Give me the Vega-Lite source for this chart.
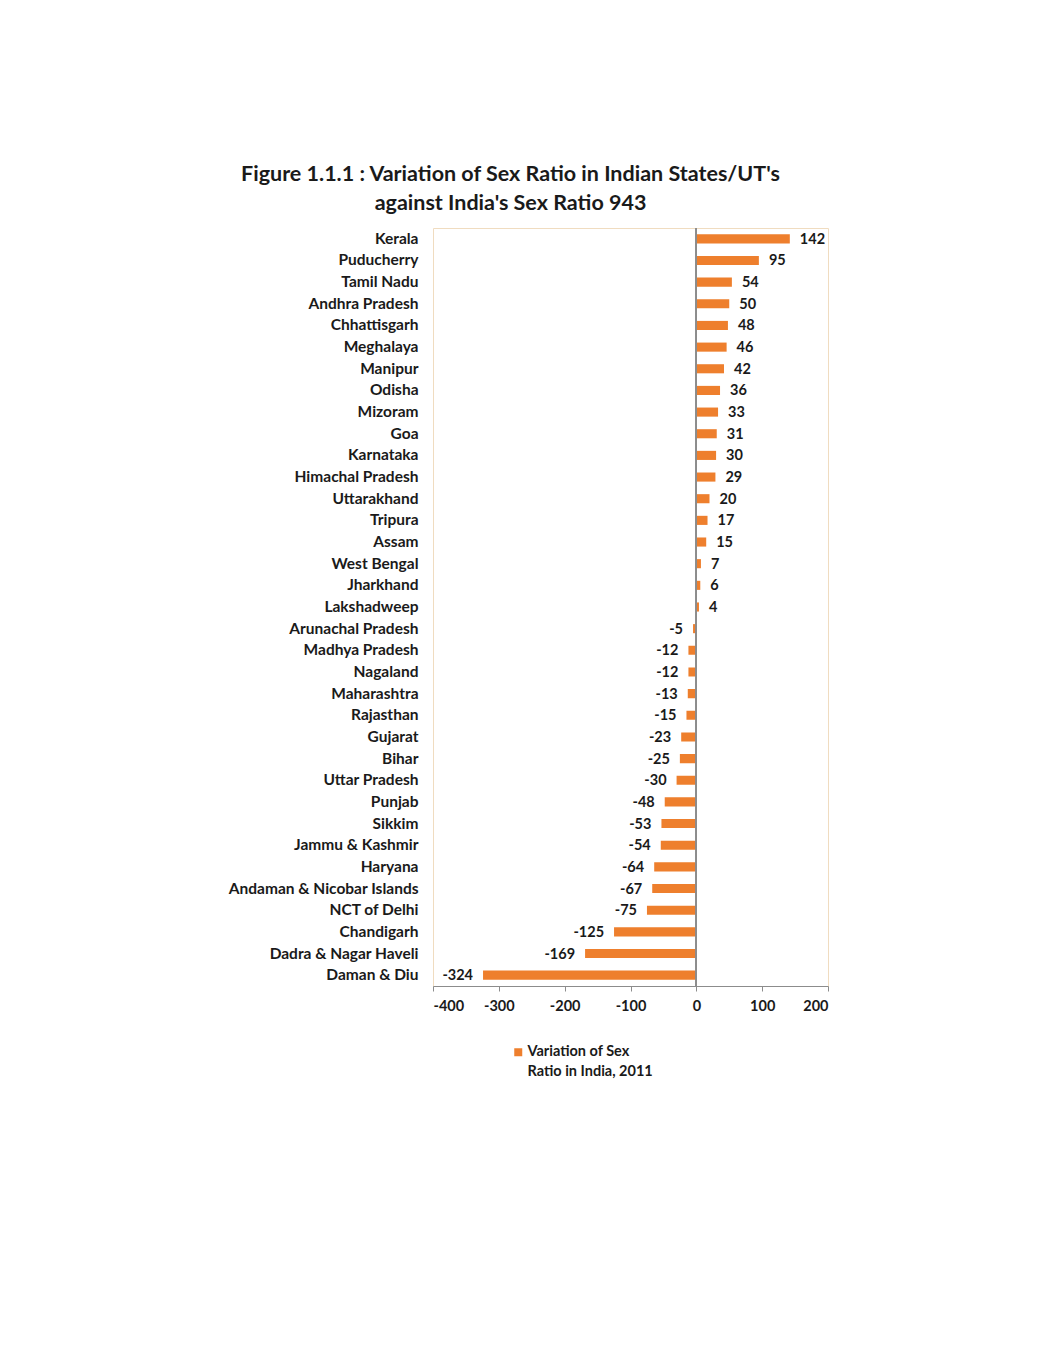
{
  "$schema": "https://vega.github.io/schema/vega-lite/v6.json",
  "width": 395,
  "height": 758,
  "autosize": {"type": "none"},
  "padding": {"left": 433, "top": 228, "right": 211, "bottom": 367},
  "background": "white",
  "title": {
    "text": ["Figure 1.1.1 : Variation of Sex Ratio in Indian States/UT's", "against India's Sex Ratio 943"],
    "anchor": "middle",
    "dx": -120,
    "font": "Lato",
    "fontSize": 21.5,
    "fontWeight": "bold",
    "color": "#1a1a1a",
    "lineHeight": 29,
    "offset": 13
  },
  "config": {
    "font": "Lato",
    "view": {"stroke": "#f0dcc0", "strokeWidth": 1}
  },
  "data": {
    "values": [
      {"state": "Kerala", "value": 142},
      {"state": "Puducherry", "value": 95},
      {"state": "Tamil Nadu", "value": 54},
      {"state": "Andhra Pradesh", "value": 50},
      {"state": "Chhattisgarh", "value": 48},
      {"state": "Meghalaya", "value": 46},
      {"state": "Manipur", "value": 42},
      {"state": "Odisha", "value": 36},
      {"state": "Mizoram", "value": 33},
      {"state": "Goa", "value": 31},
      {"state": "Karnataka", "value": 30},
      {"state": "Himachal Pradesh", "value": 29},
      {"state": "Uttarakhand", "value": 20},
      {"state": "Tripura", "value": 17},
      {"state": "Assam", "value": 15},
      {"state": "West Bengal", "value": 7},
      {"state": "Jharkhand", "value": 6},
      {"state": "Lakshadweep", "value": 4},
      {"state": "Arunachal Pradesh", "value": -5},
      {"state": "Madhya Pradesh", "value": -12},
      {"state": "Nagaland", "value": -12},
      {"state": "Maharashtra", "value": -13},
      {"state": "Rajasthan", "value": -15},
      {"state": "Gujarat", "value": -23},
      {"state": "Bihar", "value": -25},
      {"state": "Uttar Pradesh", "value": -30},
      {"state": "Punjab", "value": -48},
      {"state": "Sikkim", "value": -53},
      {"state": "Jammu & Kashmir", "value": -54},
      {"state": "Haryana", "value": -64},
      {"state": "Andaman & Nicobar Islands", "value": -67},
      {"state": "NCT of Delhi", "value": -75},
      {"state": "Chandigarh", "value": -125},
      {"state": "Dadra & Nagar Haveli", "value": -169},
      {"state": "Daman & Diu", "value": -324}
    ]
  },
  "encoding": {
    "y": {
      "field": "state",
      "type": "nominal",
      "sort": null,
      "scale": {"paddingInner": 0, "paddingOuter": 0},
      "axis": {
        "title": null,
        "domain": false,
        "ticks": false,
        "labelPadding": 15,
        "labelFont": "Lato",
        "labelFontSize": 15.5,
        "labelFontWeight": "bold",
        "labelColor": "#1a1a1a",
        "labelLimit": 300
      }
    },
    "x": {
      "field": "value",
      "type": "quantitative",
      "scale": {"domain": [-400, 200], "nice": false},
      "axis": {
        "title": null,
        "values": [-400, -300, -200, -100, 0, 100, 200],
        "labelExpr": "'' + datum.value",
        "grid": false,
        "domainColor": "#8c8c8c",
        "tickColor": "#8c8c8c",
        "tickSize": 5,
        "labelPadding": 8,
        "labelFont": "Lato",
        "labelFontSize": 14.5,
        "labelFontWeight": "bold",
        "labelColor": "#1a1a1a"
      }
    }
  },
  "layer": [
    {
      "mark": {"type": "bar", "height": {"band": 0.42}},
      "encoding": {
        "color": {
          "datum": "Variation of Sex Ratio in India, 2011",
          "scale": {"range": ["#ee7f2d"]},
          "legend": {
            "title": null,
            "orient": "none",
            "legendX": 78,
            "legendY": 817,
            "padding": 0,
            "symbolType": "square",
            "symbolSize": 64,
            "symbolStrokeWidth": 0,
            "labelOffset": 2,
            "labelFont": "Lato",
            "labelFontSize": 14.5,
            "labelFontWeight": "bold",
            "labelColor": "#1a1a1a",
            "labelLimit": 300,
            "labelExpr": "['Variation of Sex', 'Ratio in India, 2011']",
            "encode": {"labels": {"update": {"lineHeight": {"value": 20}}}}
          }
        }
      }
    },
    {
      "mark": {"type": "rule", "color": "#8c8c8c"},
      "encoding": {"x": {"datum": 0}, "y": null}
    },
    {
      "transform": [{"filter": "datum.value >= 0"}],
      "mark": {"type": "text", "align": "left", "dx": 10, "dy": 1, "font": "Lato", "fontSize": 14.5, "fontWeight": "bold", "color": "#1a1a1a"},
      "encoding": {"text": {"field": "value", "type": "nominal"}}
    },
    {
      "transform": [{"filter": "datum.value < 0"}],
      "mark": {"type": "text", "align": "right", "dx": -10, "dy": 1, "font": "Lato", "fontSize": 14.5, "fontWeight": "bold", "color": "#1a1a1a"},
      "encoding": {"text": {"field": "value", "type": "nominal"}}
    }
  ]
}
